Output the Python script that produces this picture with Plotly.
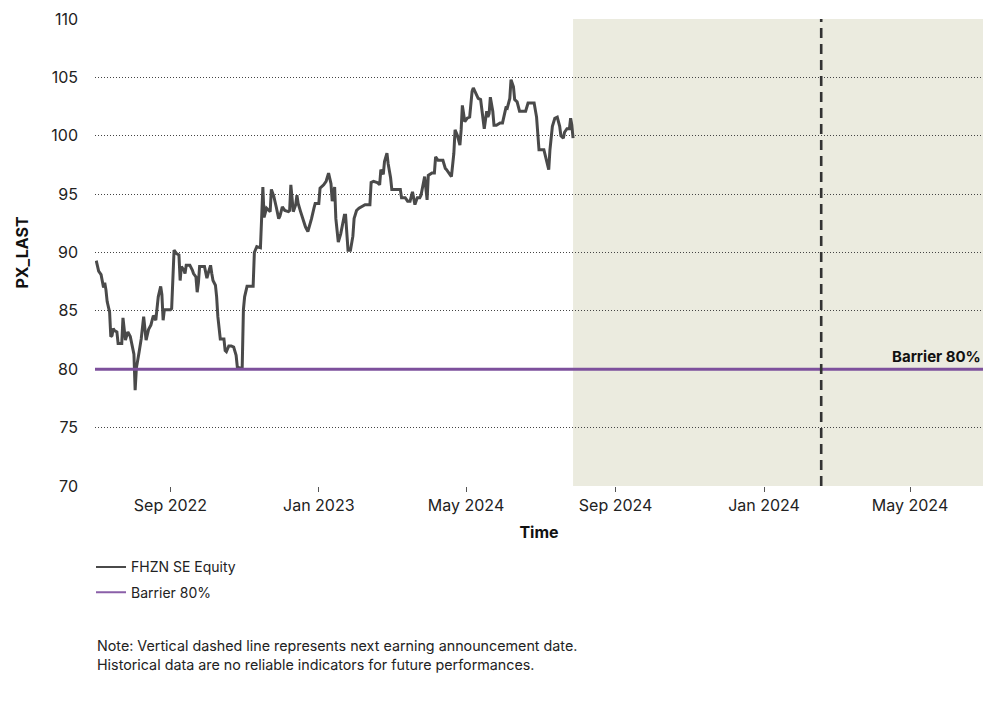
import plotly.graph_objects as go

# price history
dates = [
    "2023-07-02", "2023-07-04", "2023-07-06", "2023-07-07", "2023-07-08", "2023-07-09",
    "2023-07-10", "2023-07-11", "2023-07-12", "2023-07-13", "2023-07-14", "2023-07-15",
    "2023-07-16", "2023-07-17", "2023-07-19", "2023-07-20", "2023-07-23", "2023-07-24",
    "2023-07-26", "2023-07-28", "2023-07-30", "2023-07-31", "2023-08-02", "2023-08-03",
    "2023-08-04", "2023-08-06", "2023-08-08", "2023-08-10", "2023-08-12", "2023-08-14",
    "2023-08-16", "2023-08-17", "2023-08-18", "2023-08-20", "2023-08-21", "2023-08-22",
    "2023-08-24", "2023-08-25", "2023-08-26", "2023-08-27", "2023-08-29", "2023-09-01",
    "2023-09-02", "2023-09-03", "2023-09-04", "2023-09-06", "2023-09-08", "2023-09-09",
    "2023-09-10", "2023-09-12", "2023-09-13", "2023-09-14", "2023-09-17", "2023-09-19",
    "2023-09-20", "2023-09-22", "2023-09-23", "2023-09-24", "2023-09-25", "2023-09-29",
    "2023-10-01", "2023-10-02", "2023-10-04", "2023-10-05", "2023-10-06", "2023-10-08",
    "2023-10-09", "2023-10-10", "2023-10-12", "2023-10-15", "2023-10-16", "2023-10-17",
    "2023-10-19", "2023-10-21", "2023-10-23", "2023-10-25", "2023-10-26", "2023-10-28",
    "2023-10-30", "2023-10-31", "2023-11-01", "2023-11-03", "2023-11-08", "2023-11-09",
    "2023-11-11", "2023-11-14", "2023-11-15", "2023-11-16", "2023-11-17", "2023-11-19",
    "2023-11-21", "2023-11-22", "2023-11-23", "2023-11-25", "2023-11-27", "2023-11-29",
    "2023-11-30", "2023-12-02", "2023-12-04", "2023-12-07", "2023-12-08", "2023-12-09",
    "2023-12-11", "2023-12-13", "2023-12-14", "2023-12-15", "2023-12-17", "2023-12-19",
    "2023-12-21", "2023-12-23", "2023-12-24", "2023-12-26", "2023-12-28", "2023-12-29",
    "2024-01-01", "2024-01-02", "2024-01-05", "2024-01-07", "2024-01-09", "2024-01-11",
    "2024-01-12", "2024-01-14", "2024-01-15", "2024-01-17", "2024-01-19", "2024-01-22",
    "2024-01-23", "2024-01-25", "2024-01-27", "2024-01-29", "2024-01-30", "2024-02-01",
    "2024-02-03", "2024-02-05", "2024-02-08", "2024-02-12", "2024-02-13", "2024-02-15",
    "2024-02-18", "2024-02-20", "2024-02-21", "2024-02-23", "2024-02-24", "2024-02-26",
    "2024-02-27", "2024-02-29", "2024-03-01", "2024-03-04", "2024-03-08", "2024-03-09",
    "2024-03-12", "2024-03-14", "2024-03-16", "2024-03-18", "2024-03-19", "2024-03-20",
    "2024-03-22", "2024-03-24", "2024-03-25", "2024-03-27", "2024-03-28", "2024-03-30",
    "2024-03-31", "2024-04-03", "2024-04-05", "2024-04-06", "2024-04-08", "2024-04-12",
    "2024-04-14", "2024-04-15", "2024-04-17", "2024-04-19", "2024-04-21", "2024-04-22",
    "2024-04-24", "2024-04-26", "2024-04-27", "2024-04-28", "2024-04-30", "2024-05-02",
    "2024-05-04", "2024-05-06", "2024-05-07", "2024-05-09", "2024-05-11", "2024-05-13",
    "2024-05-15", "2024-05-16", "2024-05-18", "2024-05-19", "2024-05-20", "2024-05-21",
    "2024-05-23", "2024-05-24", "2024-05-26", "2024-05-29", "2024-05-31", "2024-06-01",
    "2024-06-03", "2024-06-04", "2024-06-06", "2024-06-07", "2024-06-09", "2024-06-10",
    "2024-06-12", "2024-06-14", "2024-06-19", "2024-06-21", "2024-06-26", "2024-06-28",
    "2024-06-29", "2024-06-30", "2024-07-04", "2024-07-06", "2024-07-08", "2024-07-09",
    "2024-07-11", "2024-07-13", "2024-07-15", "2024-07-17", "2024-07-18", "2024-07-20",
    "2024-07-21", "2024-07-23", "2024-07-25", "2024-07-26", "2024-07-27", "2024-07-28",
]
prices = [
    89.3, 88.4, 88.1, 87.4, 87.0, 87.4,
    86.8, 85.8, 85.3, 84.9, 82.8, 82.9,
    83.5, 83.3, 83.2, 82.2, 82.2, 84.4,
    82.5, 83.2, 82.8, 82.3, 81.3, 78.2,
    80.1, 81.3, 82.6, 84.5, 82.5, 83.4,
    83.8, 84.2, 84.6, 84.2, 85.1, 86.2,
    87.1, 86.4, 84.2, 85.1, 85.1, 85.1,
    85.2, 87.6, 90.2, 89.9, 89.8, 87.6,
    88.8, 88.5, 88.2, 88.9, 88.9, 88.5,
    88.2, 87.9, 86.6, 87.4, 88.8, 88.8,
    87.8, 88.2, 88.9, 88.2, 87.6, 87.2,
    86.2, 84.5, 82.6, 82.6, 81.6, 81.5,
    82.0, 82.0, 81.9, 81.2, 80.2, 80.1,
    80.1, 85.1, 86.2, 87.1, 87.1, 90.0,
    90.5, 90.4, 93.4, 95.6, 93.0, 93.8,
    93.6, 93.5, 95.4, 94.8, 93.9, 92.9,
    93.1, 93.9, 93.6, 93.5, 93.6, 95.8,
    93.5, 94.1, 94.9, 94.2, 93.5, 92.8,
    92.2, 91.8, 92.1, 92.9, 93.8, 94.2,
    94.2, 95.5, 95.8, 96.1, 96.8, 95.9,
    94.4, 95.6, 92.9, 90.9, 91.6, 93.2,
    93.2, 90.2, 90.2, 91.4, 92.9, 93.6,
    93.8, 93.9, 94.1, 94.1, 96.0, 96.1,
    96.0, 95.8, 97.1, 96.7, 97.8, 98.5,
    97.6, 96.4, 95.4, 95.4, 95.4, 94.7,
    94.7, 94.4, 94.4, 95.2, 94.7, 94.1,
    94.7, 94.7, 94.9, 96.2, 96.5, 94.5,
    96.6, 96.8, 96.8, 98.2, 97.9, 97.9,
    97.2, 97.1, 96.8, 96.5, 98.5, 100.5,
    100.0, 99.2, 100.5, 102.6, 101.2, 101.5,
    101.6, 103.8, 104.1, 103.6, 103.2, 103.1,
    101.6, 100.6, 102.1, 101.6, 101.9, 103.3,
    102.1, 100.9, 100.9, 101.1, 101.1, 101.6,
    102.5, 102.4, 103.2, 104.8, 104.2, 103.1,
    102.9, 102.1, 102.1, 102.8, 102.8, 101.6,
    100.0, 98.8, 98.8, 97.9, 97.1, 98.8,
    100.8, 101.5, 101.6, 100.8, 100.0, 99.8,
    100.3, 100.6, 100.6, 101.5, 100.9, 99.8,
]

axis_range = ["2023-07-01", "2025-06-30"]
barrier_level = 80
earnings_date = "2025-02-17"

tick_dates = ["2023-09-01", "2024-01-01", "2024-05-01", "2024-09-01", "2025-01-01", "2025-05-01"]
tick_labels = ["Sep 2022", "Jan 2023", "May 2024", "Sep 2024", "Jan 2024", "May 2024"]

FONT = "Inter"
GREY = "#4a4a4a"
PURPLE = "#7d509c"

fig = go.Figure()

fig.add_trace(go.Scatter(
    x=dates, y=prices, mode="lines", name="FHZN SE Equity",
    line=dict(color=GREY, width=3), showlegend=False,
))
fig.add_trace(go.Scatter(
    x=axis_range, y=[barrier_level, barrier_level], mode="lines", name="Barrier 80%",
    line=dict(color=PURPLE, width=3), showlegend=False,
))
# legend entries drawn with thinner strokes, like the original
fig.add_trace(go.Scatter(x=[None], y=[None], mode="lines", name="FHZN SE Equity",
                         line=dict(color=GREY, width=2), legendgroup="a"))
fig.add_trace(go.Scatter(x=[None], y=[None], mode="lines", name="Barrier 80%",
                         line=dict(color="#8a5fa8", width=2), legendgroup="b"))

# forecast window shading
fig.add_vrect(x0=dates[-1], x1=axis_range[1], fillcolor="#ebebdf", line_width=0, layer="below")

# next earnings date
fig.add_shape(type="line", x0=earnings_date, x1=earnings_date, y0=0, y1=1,
              xref="x", yref="paper", layer="above",
              line=dict(color="#333333", width=2.6, dash="10px,6px"))

fig.add_annotation(x=1, xref="paper", y=barrier_level, yref="y",
                   text="<b>Barrier 80%</b>", showarrow=False,
                   xanchor="right", yanchor="bottom", yshift=1,
                   font=dict(family=FONT, size=15, color="#111111"))

fig.add_annotation(x=0, xref="paper", y=-0.32, yref="paper",
                   text="Note: Vertical dashed line represents next earning announcement date.<br>"
                        "Historical data are no reliable indicators for future performances.",
                   showarrow=False, xanchor="left", yanchor="top", align="left",
                   font=dict(family=FONT, size=14.3, color="#222222"))

fig.update_xaxes(
    range=axis_range, tickvals=tick_dates, ticktext=tick_labels, automargin=False,
    showgrid=False, showline=False, zeroline=False,
    ticks="outside", ticklen=5, tickwidth=1, tickcolor="#555555",
    tickfont=dict(family=FONT, size=16, color="#222222"),
    title=dict(text="<b>Time</b>", font=dict(family=FONT, size=16, color="#111111"), standoff=12),
)
fig.update_yaxes(
    range=[70, 110], dtick=5, automargin=False,
    showgrid=True, gridcolor="#444444", gridwidth=1, griddash="1px,2px",
    showline=False, zeroline=False, ticks="", ticklabelstandoff=16,
    tickfont=dict(family=FONT, size=16, color="#222222"),
    title=dict(text="<b>PX_LAST</b>", font=dict(family=FONT, size=16, color="#111111"), standoff=18),
)

# the page adds an 8px body margin, so the margins are trimmed on top/left
fig.update_layout(
    width=1000, height=711,
    margin=dict(l=87, r=25, t=11, b=233),
    plot_bgcolor="white", paper_bgcolor="white",
    font=dict(family=FONT, color="#222222"),
    legend=dict(orientation="v", x=-0.0045, xanchor="left", y=-0.14, yanchor="top",
                font=dict(family=FONT, size=14, color="#222222"),
                itemwidth=30, tracegroupgap=4, bgcolor="rgba(0,0,0,0)"),
)

fig.write_html("out.html")
